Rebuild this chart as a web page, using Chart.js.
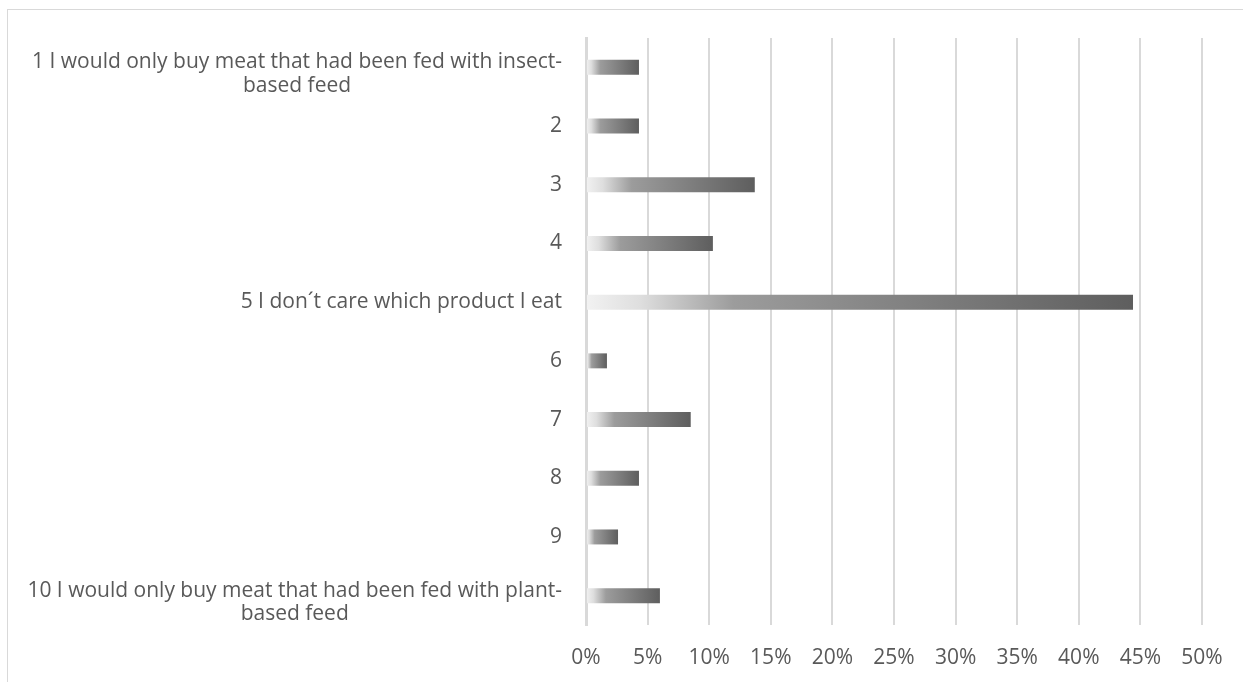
<!DOCTYPE html>
<html>
<head>
<meta charset="utf-8">
<script src="https://cdn.jsdelivr.net/npm/chart.js@4"></script>
<style>
  html, body { margin: 0; background: #fff; }
  #wrap { width: 1243px; height: 682px; }
</style>
</head>
<body>
<div id="wrap"><canvas id="barChart"></canvas></div>
<script>
// answers on the 1-10 scale, share of respondents in %
const categories = [
  ['1 I would only buy meat that had been fed with insect-', 'based feed'],
  '2',
  '3',
  '4',
  '5 I don´t care which product I eat',
  '6',
  '7',
  '8',
  '9',
  ['10 I would only buy meat that had been fed with plant-', 'based feed']
];
const shares = [4.3, 4.3, 13.7, 10.3, 44.4, 1.7, 8.5, 4.3, 2.6, 6.0];
const xTicks = [0, 5, 10, 15, 20, 25, 30, 35, 40, 45, 50];

const FONT = '"Open Sans", sans-serif';
const FONT_SIZE = 21;
const TEXT = '#595959';
const GRID = '#d9d9d9';

const barCanvas = document.getElementById('barChart');

// light-to-dark fill along each bar
const barGradient = (context) => {
  const { chart } = context;
  if (!chart.chartArea || context.type !== 'data') return '#8c8c8c';
  const x = chart.scales.x;
  const start = x.getPixelForValue(0);
  const end = x.getPixelForValue(shares[context.dataIndex]);
  const g = chart.ctx.createLinearGradient(start, 0, end, 0);
  g.addColorStop(0, '#f2f2f2');
  g.addColorStop(0.1, '#dedede');
  g.addColorStop(0.27, '#9c9c9c');
  g.addColorStop(1, '#5e5e5e');
  return g;
};

// outer frame of the chart
const frame = {
  id: 'frame',
  beforeDraw(chart) {
    const { ctx, width, height } = chart;
    ctx.save();
    ctx.fillStyle = '#fff';
    ctx.fillRect(0, 0, width, height);
    ctx.strokeStyle = GRID;
    ctx.lineWidth = 1;
    ctx.strokeRect(7.5, 9.5, width + 20, height + 20);
    ctx.restore();
  }
};

// category labels: right-aligned block, wrapped lines centred in it
const categoryLabels = {
  id: 'categoryLabels',
  afterDraw(chart) {
    const { ctx } = chart;
    const y = chart.scales.y;
    const right = y.right - 24;
    const lineHeight = FONT_SIZE * 1.13;
    ctx.save();
    ctx.font = `${FONT_SIZE}px ${FONT}`;
    ctx.fillStyle = TEXT;
    ctx.textAlign = 'center';
    ctx.textBaseline = 'middle';
    categories.forEach((label, i) => {
      const lines = [].concat(label);
      const widest = Math.max(...lines.map(l => ctx.measureText(l).width));
      const cx = right - widest / 2;
      const shift = lines.length > 1 ? 7 : 0;
      const top = y.getPixelForValue(i) - (lines.length - 1) * lineHeight / 2 + shift;
      lines.forEach((line, j) => ctx.fillText(line, cx, top + j * lineHeight));
    });
    ctx.restore();
  }
};

Chart.defaults.font.family = FONT;
Chart.defaults.font.size = FONT_SIZE;
Chart.defaults.color = TEXT;

new Chart(barCanvas, {
  type: 'bar',
  data: {
    labels: categories,
    datasets: [{
      label: 'Share',
      data: shares,
      backgroundColor: barGradient,
      barPercentage: 0.5,
      categoryPercentage: 0.51
    }]
  },
  options: {
    indexAxis: 'y',
    responsive: true,
    maintainAspectRatio: false,
    animation: false,
    layout: {
      padding: { top: 38, right: 41, left: 0, bottom: 0 }
    },
    plugins: {
      legend: { display: false },
      tooltip: { enabled: false }
    },
    scales: {
      x: {
        min: xTicks[0],
        max: xTicks[xTicks.length - 1],
        afterFit: (scale) => { scale.height = 57; },
        ticks: {
          stepSize: xTicks[1] - xTicks[0],
          padding: 20,
          color: TEXT,
          callback: (v) => v + '%'
        },
        grid: {
          color: GRID,
          lineWidth: 2,
          drawTicks: false
        },
        border: { display: false }
      },
      y: {
        afterFit: (scale) => { scale.width = 586; },
        ticks: { display: false },
        grid: { display: false, drawTicks: false },
        border: { color: GRID, width: 3 }
      }
    }
  },
  plugins: [frame, categoryLabels]
});
</script>
</body>
</html>
